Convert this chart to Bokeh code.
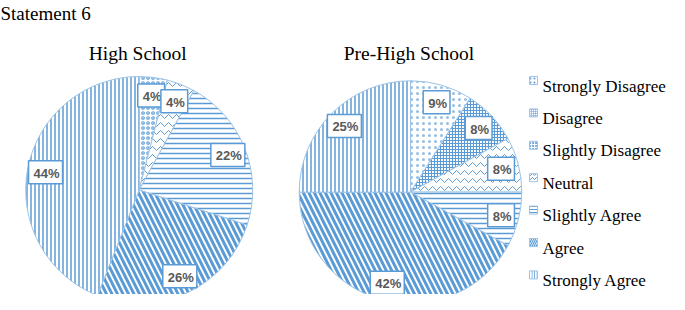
import numpy as np
from bokeh.plotting import figure
from bokeh.models import ColumnDataSource, Range1d
from bokeh.core.properties import value
from bokeh.embed import file_html
from bokeh.resources import INLINE

# ---------------- data ----------------
chart_title = "Statement 6"
categories = ["Strongly Disagree", "Disagree", "Slightly Disagree", "Neutral",
              "Slightly Agree", "Agree", "Strongly Agree"]
high_school = [0, 0, 4, 4, 22, 26, 44]
pre_high_school = [9, 8, 0, 8, 8, 42, 25]
pie_titles = ["High School", "Pre-High School"]

# ---------------- styles ----------------
BLUE = "#5B9BD5"
EDGE = "#9DC3E6"
SERIF = value("'Liberation Serif', 'Times New Roman', serif")
SANS = value("'Liberation Sans', Arial, sans-serif")
hatches = [".", "+", "o", "v", "-", "\\", "|"]
hatch_scales = [6, 3, 5, 8, 5, 11, 4]
hatch_weights = [0.5, 1.2, 1.2, 1, 1.5, 3, 1.5]
hatch_alphas = [0.65, 1, 1, 1, 1, 1, 1]

W, H = 669, 294
p = figure(width=W, height=H, x_range=Range1d(0, W), y_range=Range1d(0, H),
           output_backend="svg", toolbar_location=None, min_border=0,
           x_axis_type=None, y_axis_type=None)
p.grid.visible = False
p.outline_line_color = None
p.background_fill_color = "white"

# pie geometry: (center x, center y, radius) in screen-pixel data units
geoms = [(138.7, 104.5, 113.5), (410.0, 102.4, 111.3)]
series = [high_school, pre_high_school]
LABEL_F = 0.84

for vals, (cx, cy, r), ttl in zip(series, geoms, pie_titles):
    total = float(sum(vals))
    cum = np.cumsum([0] + vals) / total
    d = dict(x=[], y=[], r=[], start=[], end=[], hatch=[], hs=[], hw=[], ha=[],
             lx=[], ly=[], txt=[])
    for i, v in enumerate(vals):
        if v <= 0:
            continue
        a0, a1 = cum[i], cum[i + 1]
        mid = (a0 + a1) / 2 * 2 * np.pi
        d["x"].append(cx); d["y"].append(cy); d["r"].append(r)
        d["start"].append(np.pi / 2 - 2 * np.pi * a0)
        d["end"].append(np.pi / 2 - 2 * np.pi * a1)
        d["hatch"].append(hatches[i]); d["hs"].append(hatch_scales[i])
        d["hw"].append(hatch_weights[i]); d["ha"].append(hatch_alphas[i])
        d["lx"].append(cx + LABEL_F * r * np.sin(mid))
        d["ly"].append(cy + LABEL_F * r * np.cos(mid))
        d["txt"].append(f"{v}%")
    src = ColumnDataSource(d)
    p.wedge(x="x", y="y", radius="r", start_angle="start", end_angle="end",
            direction="clock", source=src, fill_color="white",
            line_color=EDGE, line_width=1,
            hatch_pattern="hatch", hatch_color=BLUE, hatch_scale="hs",
            hatch_weight="hw", hatch_alpha="ha")
    p.text(x="lx", y="ly", text="txt", source=src, text_align="center",
           text_baseline="middle", text_font=SANS,
           text_font_style="bold", text_font_size=value("13px"), text_color="#595959",
           background_fill_color="white", border_line_color=BLUE, border_line_width=1.5,
           padding=[5, 3, 5, 3])
    p.text(x=[cx - 1.5], y=[241.5], text=[ttl], text_align="center",
           text_baseline="alphabetic", text_font=SERIF,
           text_font_size=value("19.5px"), text_color="black")

# chart title
p.text(x=[0], y=[281], text=[chart_title], text_align="left", text_baseline="alphabetic",
       text_font=SERIF, text_font_size=value("19px"), text_color="black")

# legend
n = len(categories)
base = [302 - (93.5 + i * 32.4) for i in range(n)]
leg = ColumnDataSource(dict(
    sx=[533] * n, sy=[b + 5.5 for b in base], tx=[542] * n, ty=base,
    name=categories, hatch=hatches, hs=[4, 2, 3, 4, 3, 4, 2.5],
    hw=[0.6, 1, 1, 1, 1, 1.2, 1]))
p.rect(x="sx", y="sy", width=8, height=8, source=leg, fill_color="white",
       line_color=EDGE, line_width=1, hatch_pattern="hatch", hatch_color=BLUE,
       hatch_scale="hs", hatch_weight="hw")
p.text(x="tx", y="ty", text="name", source=leg, text_align="left",
       text_baseline="alphabetic", text_font=SERIF,
       text_font_size=value("17px"), text_color="black")

open("out.html", "w").write(file_html(p, INLINE))
